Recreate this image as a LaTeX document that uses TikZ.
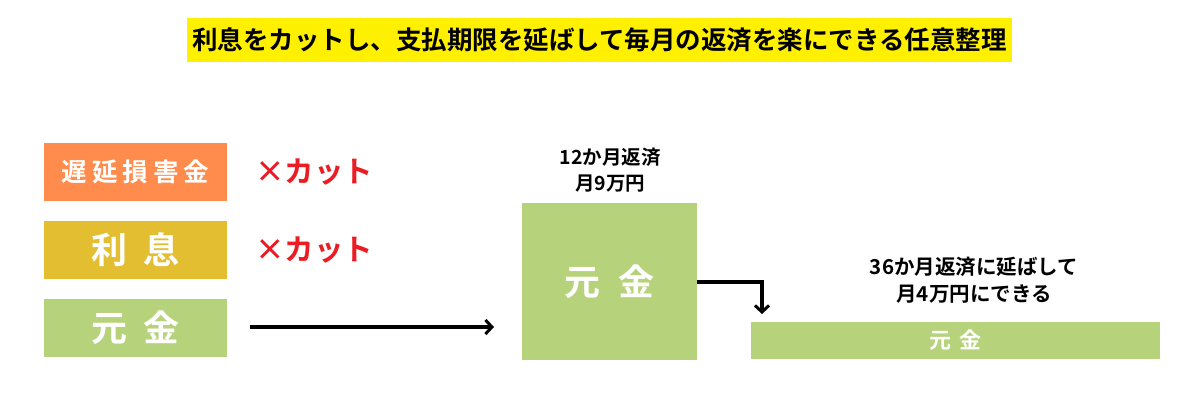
\documentclass[tikz,border=0pt]{standalone}
\usepackage{fontspec}
\setmainfont{Noto Sans CJK JP}[BoldFont={Noto Sans CJK JP Bold}]
\usetikzlibrary{arrows.meta}
\definecolor{cOrange}{RGB}{255,140,76}
\definecolor{cOchre}{RGB}{226,190,48}
\definecolor{cGreen}{RGB}{182,210,122}
\definecolor{cTitle}{RGB}{255,240,0}
\definecolor{cRed}{RGB}{236,28,36}
\begin{document}
\begin{tikzpicture}[x=1pt,y=-1pt,
  box/.style={fill=#1,inner sep=0pt,text=white,font=\bfseries},
  cut/.style={text=cRed,font=\fontsize{29.5}{32}\selectfont\bfseries,inner sep=0pt},
  lbl/.style={align=center,font=\fontsize{19.5}{26}\selectfont\bfseries,inner sep=0pt},
  conn/.style={line width=3.2pt,-{Straight Barb[length=6.5pt,width=14pt,line width=3pt]}}]
\useasboundingbox (0,0) rectangle (1200,400);
\fill[white] (0,0) rectangle (1200,400);
% title
\node[fill=cTitle,minimum width=825pt,minimum height=44pt,inner sep=0pt,
      font=\fontsize{25.5}{28}\selectfont\bfseries] (title) at (599.5,40)
  {利息をカットし、支払期限を延ばして毎月の返済を楽にできる任意整理};
% left boxes
\node[box=cOrange,minimum width=183pt,minimum height=58pt] (late) at (135.5,171.5)
  {\fontsize{25.5}{28}\selectfont 遅\hspace{5pt}延\hspace{5pt}損\hspace{5pt}害\hspace{5pt}金};
\node[box=cOchre,minimum width=183pt,minimum height=58pt] (int) at (135.5,249.5)
  {\fontsize{36}{40}\selectfont 利\hspace{16pt}息};
\node[box=cGreen,minimum width=183pt,minimum height=58pt] (prin) at (135.5,327.5)
  {\fontsize{36}{40}\selectfont 元\hspace{16pt}金};
\node[cut] (cut1) at (314,172) {×カット};
\node[cut] (cut2) at (314,250) {×カット};
% middle box
\node[box=cGreen,minimum width=175pt,minimum height=157pt] (mid) at (609.5,281.5)
  {\fontsize{36}{40}\selectfont 元\hspace{18pt}金};
\node[lbl] (midlbl) at (610,170) {12か月返済\\月9万円};
% bottom bar
\node[box=cGreen,minimum width=409pt,minimum height=37pt] (bar) at (955.5,340.5)
  {\fontsize{22}{24}\selectfont 元\hspace{8pt}金};
\node[lbl,font=\fontsize{20.5}{27}\selectfont\bfseries] (barlbl) at (974,280) {36か月返済に延ばして\\月4万円にできる};
% connectors
\coordinate (as) at (250,327);
\coordinate (ae) at (494,327);
\draw[conn] (as) -- (ae);
\coordinate (turn) at (762,282);
\coordinate (tip) at (762,314);
\draw[conn] (mid.east |- turn) -- (turn) -- (tip);
\end{tikzpicture}
\end{document}
